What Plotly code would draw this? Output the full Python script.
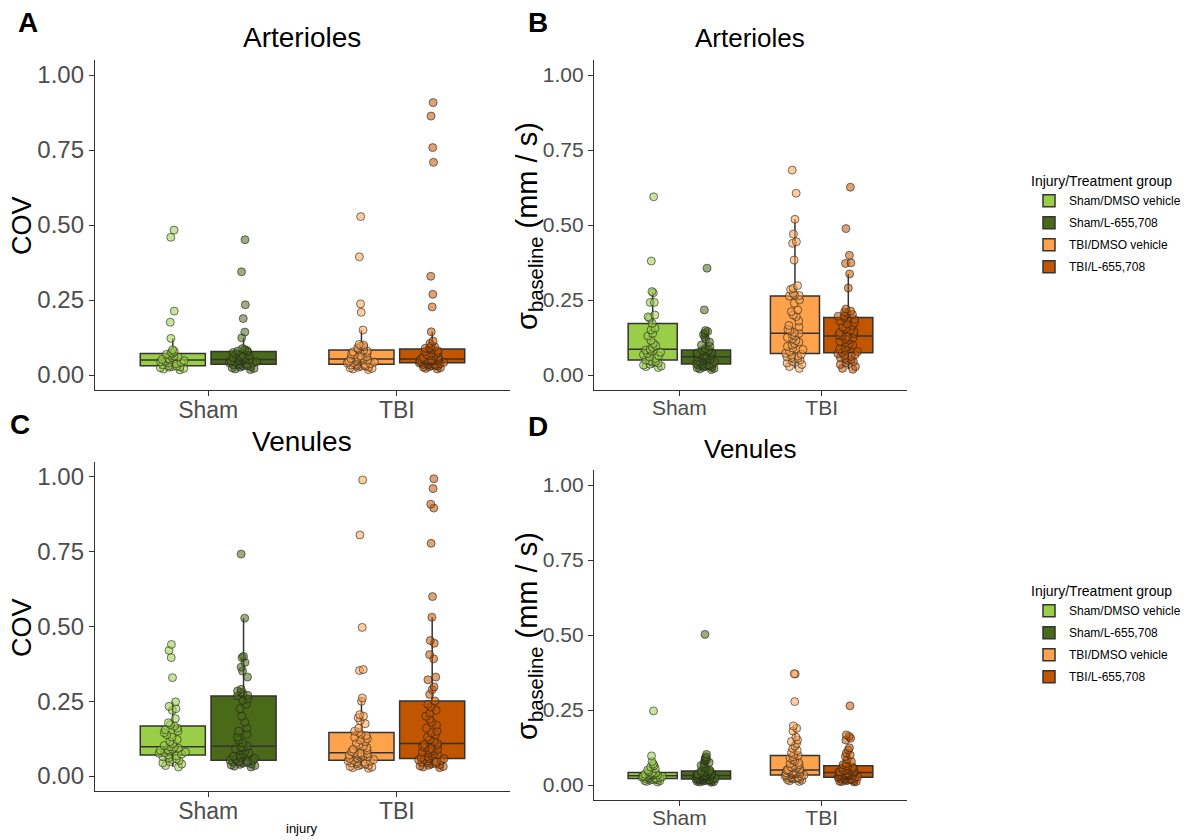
import plotly.graph_objects as go

# ---------------- data ----------------
injury = ["Sham", "TBI"]
treatments = ["DMSO vehicle", "L-655,708"]
group_names = ["Sham/DMSO vehicle", "Sham/L-655,708", "TBI/DMSO vehicle", "TBI/L-655,708"]
y_ticks = [0.0, 0.25, 0.5, 0.75, 1.0]
y_tick_labels = ["0.00", "0.25", "0.50", "0.75", "1.00"]

# Panel A: Arterioles COV
art_cov_sham_dmso = [0.017, 0.020, 0.022, 0.024, 0.026, 0.027, 0.028, 0.030, 0.031, 0.034, 0.037,
                     0.040, 0.042, 0.044, 0.046, 0.048, 0.050, 0.052, 0.055, 0.058, 0.060, 0.063,
                     0.066, 0.069, 0.072, 0.075, 0.079, 0.084, 0.122, 0.176, 0.213, 0.459, 0.483]
art_cov_sham_l = [0.018, 0.020, 0.022, 0.024, 0.026, 0.028, 0.030, 0.031, 0.033, 0.034, 0.036,
                  0.038, 0.040, 0.041, 0.043, 0.044, 0.046, 0.047, 0.049, 0.050, 0.052, 0.054,
                  0.056, 0.058, 0.060, 0.062, 0.065, 0.068, 0.071, 0.075, 0.078, 0.080, 0.082,
                  0.085, 0.088, 0.124, 0.143, 0.188, 0.234, 0.344, 0.451]
art_cov_tbi_dmso = [0.018, 0.020, 0.022, 0.024, 0.026, 0.027, 0.029, 0.030, 0.032, 0.033, 0.035,
                    0.036, 0.038, 0.040, 0.041, 0.043, 0.044, 0.046, 0.047, 0.049, 0.050, 0.052,
                    0.053, 0.055, 0.057, 0.059, 0.061, 0.064, 0.067, 0.070, 0.073, 0.077, 0.080,
                    0.083, 0.086, 0.090, 0.094, 0.097, 0.100, 0.102, 0.150, 0.209, 0.237, 0.394, 0.528]
art_cov_tbi_l = [0.020, 0.022, 0.024, 0.026, 0.028, 0.030, 0.031, 0.032, 0.034, 0.035, 0.036,
                 0.037, 0.038, 0.040, 0.041, 0.042, 0.043, 0.044, 0.045, 0.046, 0.047, 0.048,
                 0.048, 0.049, 0.050, 0.051, 0.052, 0.052, 0.053, 0.055, 0.057, 0.059, 0.061,
                 0.063, 0.065, 0.068, 0.070, 0.073, 0.075, 0.078, 0.081, 0.084, 0.087, 0.089,
                 0.091, 0.094, 0.098, 0.105, 0.113, 0.144, 0.227, 0.269, 0.329, 0.709, 0.758,
                 0.863, 0.908]

# Panel B: Arterioles sigma baseline (mm/s)
art_sd_sham_dmso = [0.025, 0.028, 0.030, 0.033, 0.036, 0.040, 0.043, 0.045, 0.048, 0.050, 0.055,
                    0.060, 0.064, 0.068, 0.072, 0.076, 0.080, 0.083, 0.086, 0.092, 0.098, 0.105,
                    0.115, 0.130, 0.139, 0.150, 0.156, 0.172, 0.190, 0.194, 0.200, 0.242, 0.242,
                    0.274, 0.278, 0.380, 0.594]
art_sd_sham_l = [0.018, 0.020, 0.022, 0.024, 0.026, 0.027, 0.029, 0.030, 0.031, 0.033, 0.034,
                 0.036, 0.037, 0.039, 0.041, 0.043, 0.045, 0.047, 0.049, 0.051, 0.053, 0.055,
                 0.057, 0.059, 0.061, 0.063, 0.065, 0.066, 0.068, 0.070, 0.072, 0.074, 0.076,
                 0.078, 0.080, 0.082, 0.083, 0.088, 0.095, 0.100, 0.110, 0.120, 0.128, 0.135,
                 0.140, 0.145, 0.148, 0.217, 0.356]
art_sd_tbi_dmso = [0.022, 0.028, 0.035, 0.040, 0.045, 0.050, 0.053, 0.056, 0.058, 0.060, 0.063,
                   0.066, 0.069, 0.072, 0.078, 0.085, 0.090, 0.095, 0.100, 0.105, 0.110, 0.115,
                   0.120, 0.125, 0.130, 0.135, 0.139, 0.142, 0.148, 0.152, 0.160, 0.165, 0.180,
                   0.195, 0.200, 0.211, 0.217, 0.239, 0.250, 0.263, 0.265, 0.267, 0.272, 0.285,
                   0.289, 0.298, 0.383, 0.439, 0.444, 0.470, 0.519, 0.606, 0.683]
art_sd_tbi_l = [0.019, 0.022, 0.028, 0.035, 0.040, 0.045, 0.048, 0.052, 0.055, 0.058, 0.062,
                0.065, 0.068, 0.071, 0.074, 0.078, 0.082, 0.086, 0.090, 0.095, 0.100, 0.104,
                0.108, 0.112, 0.116, 0.120, 0.124, 0.127, 0.130, 0.134, 0.138, 0.142, 0.146,
                0.150, 0.155, 0.160, 0.165, 0.170, 0.175, 0.180, 0.185, 0.189, 0.192, 0.196,
                0.198, 0.202, 0.206, 0.210, 0.213, 0.220, 0.290, 0.337, 0.372, 0.374, 0.399,
                0.488, 0.626]

# Panel C: Venules COV
ven_cov_sham_dmso = [0.030, 0.035, 0.040, 0.044, 0.048, 0.052, 0.055, 0.058, 0.061, 0.064, 0.067,
                     0.070, 0.073, 0.076, 0.078, 0.080, 0.083, 0.086, 0.088, 0.090, 0.093, 0.096,
                     0.098, 0.102, 0.108, 0.115, 0.122, 0.130, 0.138, 0.145, 0.150, 0.155, 0.160,
                     0.167, 0.172, 0.178, 0.192, 0.220, 0.225, 0.233, 0.248, 0.329, 0.396, 0.420,
                     0.440]
ven_cov_sham_l = [0.030, 0.033, 0.035, 0.037, 0.039, 0.041, 0.043, 0.045, 0.046, 0.047, 0.049,
                  0.050, 0.052, 0.053, 0.056, 0.059, 0.062, 0.066, 0.070, 0.074, 0.078, 0.082,
                  0.086, 0.090, 0.094, 0.097, 0.100, 0.110, 0.120, 0.130, 0.140, 0.150, 0.160,
                  0.180, 0.200, 0.225, 0.240, 0.253, 0.258, 0.268, 0.270, 0.276, 0.280, 0.284,
                  0.290, 0.331, 0.351, 0.364, 0.380, 0.396, 0.400, 0.528, 0.742]
ven_cov_tbi_dmso = [0.026, 0.028, 0.030, 0.032, 0.034, 0.036, 0.038, 0.040, 0.042, 0.044, 0.046,
                    0.048, 0.050, 0.051, 0.053, 0.055, 0.057, 0.059, 0.061, 0.063, 0.065, 0.067,
                    0.069, 0.070, 0.072, 0.074, 0.075, 0.077, 0.078, 0.082, 0.086, 0.090, 0.095,
                    0.100, 0.105, 0.110, 0.115, 0.120, 0.125, 0.130, 0.135, 0.140, 0.146, 0.150,
                    0.160, 0.175, 0.185, 0.195, 0.200, 0.205, 0.250, 0.261, 0.353, 0.356, 0.497,
                    0.806, 0.990]
ven_cov_tbi_l = [0.028, 0.030, 0.032, 0.034, 0.036, 0.038, 0.040, 0.042, 0.044, 0.046, 0.048,
                 0.050, 0.052, 0.054, 0.056, 0.058, 0.059, 0.062, 0.065, 0.068, 0.071, 0.074,
                 0.077, 0.080, 0.083, 0.086, 0.089, 0.092, 0.095, 0.099, 0.103, 0.106, 0.109,
                 0.115, 0.122, 0.130, 0.138, 0.145, 0.150, 0.160, 0.170, 0.180, 0.190, 0.200,
                 0.210, 0.220, 0.230, 0.240, 0.251, 0.273, 0.289, 0.298, 0.322, 0.331, 0.392,
                 0.406, 0.444, 0.453, 0.531, 0.600, 0.778, 0.896, 0.909, 0.961, 0.994]

# Panel D: Venules sigma baseline (mm/s)
ven_sd_sham_dmso = [0.010, 0.012, 0.014, 0.015, 0.016, 0.017, 0.018, 0.020, 0.021, 0.022, 0.023,
                    0.024, 0.025, 0.026, 0.027, 0.028, 0.029, 0.030, 0.031, 0.032, 0.033, 0.034,
                    0.035, 0.036, 0.037, 0.039, 0.040, 0.042, 0.045, 0.050, 0.055, 0.060, 0.065,
                    0.070, 0.078, 0.097, 0.247]
ven_sd_sham_l = [0.009, 0.010, 0.011, 0.012, 0.013, 0.014, 0.015, 0.016, 0.016, 0.017, 0.018,
                 0.019, 0.019, 0.020, 0.021, 0.022, 0.023, 0.024, 0.025, 0.026, 0.027, 0.028,
                 0.029, 0.030, 0.030, 0.031, 0.032, 0.033, 0.034, 0.035, 0.036, 0.037, 0.038,
                 0.039, 0.040, 0.041, 0.043, 0.044, 0.046, 0.047, 0.050, 0.055, 0.060, 0.065,
                 0.070, 0.075, 0.080, 0.083, 0.085, 0.090, 0.094, 0.102, 0.502]
ven_sd_tbi_dmso = [0.012, 0.014, 0.016, 0.018, 0.020, 0.021, 0.022, 0.023, 0.024, 0.025, 0.026,
                   0.027, 0.029, 0.030, 0.032, 0.033, 0.034, 0.035, 0.036, 0.037, 0.038, 0.039,
                   0.040, 0.041, 0.042, 0.043, 0.044, 0.046, 0.047, 0.049, 0.050, 0.052, 0.054,
                   0.056, 0.058, 0.060, 0.062, 0.065, 0.068, 0.071, 0.075, 0.080, 0.085, 0.090,
                   0.094, 0.098, 0.102, 0.108, 0.115, 0.122, 0.130, 0.138, 0.145, 0.150, 0.160,
                   0.180, 0.189, 0.197, 0.278, 0.370, 0.371]
ven_sd_tbi_l = [0.010, 0.011, 0.012, 0.013, 0.014, 0.015, 0.016, 0.018, 0.019, 0.020, 0.021,
                0.022, 0.024, 0.025, 0.026, 0.027, 0.028, 0.029, 0.030, 0.031, 0.032, 0.033,
                0.034, 0.035, 0.036, 0.038, 0.039, 0.040, 0.042, 0.043, 0.044, 0.045, 0.046,
                0.047, 0.048, 0.050, 0.052, 0.054, 0.056, 0.058, 0.060, 0.062, 0.064, 0.068,
                0.072, 0.078, 0.085, 0.095, 0.100, 0.106, 0.117, 0.124, 0.150, 0.156, 0.162,
                0.167, 0.264]

# ---------------- style ----------------
fill_colors = ["#9BCE48", "#4A6A19", "#FFA24C", "#C25500"]
point_colors = ["rgba(155,206,72,0.55)", "rgba(74,106,25,0.55)",
                "rgba(255,162,76,0.55)", "rgba(194,85,0,0.55)"]
REG = "Liberation Sans, Arial, sans-serif"

# the page body has an 8px margin, so the figure is laid out 8px in from the window corner
OFF = 8
W, H = 1193 - OFF, 840 - OFF


def px_x(px):
    return (px - OFF) / W


def px_y(py):
    return 1 - (py - OFF) / H


SIGMA_TITLE = "σ<sub>baseline</sub> (mm / s)"

panels = [
    # (axis suffix, data lists, x px range, y px range, legend, tick size, x tick size)
    ("", [art_cov_sham_dmso, art_cov_sham_l, art_cov_tbi_dmso, art_cov_tbi_l],
     (95, 510), (60, 390), None, 24, 23),
    ("2", [art_sd_sham_dmso, art_sd_sham_l, art_sd_tbi_dmso, art_sd_tbi_l],
     (594, 907), (60, 390), "legend", 21, 21),
    ("3", [ven_cov_sham_dmso, ven_cov_sham_l, ven_cov_tbi_dmso, ven_cov_tbi_l],
     (95, 510), (462, 791), None, 24, 23),
    ("4", [ven_sd_sham_dmso, ven_sd_sham_l, ven_sd_tbi_dmso, ven_sd_tbi_l],
     (594, 907), (470, 800), "legend2", 21, 21),
]

fig = go.Figure()
layout_axes = {}
for suffix, lists, xpx, ypx, leg, tsize, xtsize in panels:
    for gi, vals in enumerate(lists):
        inj = injury[gi // 2]
        trt = treatments[gi % 2]
        tr = go.Box(
            x=[inj] * len(vals), y=vals,
            name=group_names[gi],
            offsetgroup=trt,
            xaxis="x" + suffix, yaxis="y" + suffix,
            boxpoints="all", jitter=0.45, pointpos=0,
            quartilemethod="inclusive",
            fillcolor=fill_colors[gi],
            line=dict(color="#333333", width=1.5),
            whiskerwidth=0,
            marker=dict(size=8, color=point_colors[gi],
                        line=dict(color="rgba(30,30,30,0.6)", width=1)),
            showlegend=leg is not None,
            hoverinfo="y",
        )
        if leg is not None:
            tr.legend = leg
            tr.legendgroup = f"{leg}-{gi}"
        fig.add_trace(tr)
    xa = dict(domain=[px_x(xpx[0]), px_x(xpx[1])], anchor="y" + suffix,
              type="category", categoryorder="array", categoryarray=injury,
              range=[-0.6, 1.6], showline=True, linecolor="#333333", linewidth=1.3,
              ticks="outside", ticklen=5, tickcolor="#333333", tickwidth=1.3,
              ticklabelstandoff=-6,
              tickfont=dict(family=REG, size=xtsize, color="#4D4D4D"),
              showgrid=False, zeroline=False, fixedrange=True)
    ya = dict(domain=[px_y(ypx[1]), px_y(ypx[0])], anchor="x" + suffix,
              range=[-0.05, 1.05], tickvals=y_ticks, ticktext=y_tick_labels,
              showline=True, linecolor="#333333", linewidth=1.3,
              ticks="outside", ticklen=5, tickcolor="#333333", tickwidth=1.3,
              tickfont=dict(family=REG, size=tsize, color="#4D4D4D"),
              showgrid=False, zeroline=False, fixedrange=True)
    layout_axes["xaxis" + suffix] = xa
    layout_axes["yaxis" + suffix] = ya

annotations = []
# y axis titles
for txt, xc, yc, size in [("COV", 22, 226, 27), (SIGMA_TITLE, 529, 226, 29),
                          ("COV", 22, 628, 27), (SIGMA_TITLE, 529, 636, 29)]:
    annotations.append(dict(text=txt, x=px_x(xc), y=px_y(yc), xref="paper", yref="paper",
                            xanchor="center", yanchor="middle", showarrow=False,
                            textangle=-90, font=dict(family=REG, size=size, color="black")))
# panel titles
for txt, xc, yc, size in [("Arterioles", 302, 38, 28), ("Arterioles", 750, 38, 26),
                          ("Venules", 302, 441, 28), ("Venules", 750, 449, 26)]:
    annotations.append(dict(text=txt, x=px_x(xc), y=px_y(yc), xref="paper", yref="paper",
                            xanchor="center", yanchor="middle", showarrow=False,
                            font=dict(family=REG, size=size, color="black")))
# panel letters
for txt, xc, yc in [("A", 28, 22), ("B", 538, 22), ("C", 20, 424), ("D", 538, 426)]:
    annotations.append(dict(text="<b>" + txt + "</b>", x=px_x(xc), y=px_y(yc),
                            xref="paper", yref="paper", xanchor="center", yanchor="middle",
                            showarrow=False, font=dict(family=REG, size=28, color="black")))
annotations.append(dict(text="injury", x=px_x(302), y=px_y(828), xref="paper", yref="paper",
                        xanchor="center", yanchor="middle", showarrow=False,
                        font=dict(family=REG, size=13, color="black")))

legend_style = dict(
    title=dict(text="Injury/Treatment group", font=dict(family=REG, size=14, color="black")),
    font=dict(family=REG, size=12, color="black"),
    bgcolor="rgba(0,0,0,0)", xanchor="left", yanchor="top",
    tracegroupgap=3, itemclick=False, itemdoubleclick=False,
)

fig.update_layout(
    width=W, height=H,
    margin=dict(l=0, r=0, t=0, b=0),
    paper_bgcolor="white", plot_bgcolor="white",
    boxmode="group", boxgap=0.25, boxgroupgap=0.08,
    annotations=annotations,
    legend=dict(x=px_x(1029), y=px_y(168), **legend_style),
    legend2=dict(x=px_x(1029), y=px_y(578), **legend_style),
    font=dict(family=REG),
    **layout_axes,
)

fig.write_html("out.html")
